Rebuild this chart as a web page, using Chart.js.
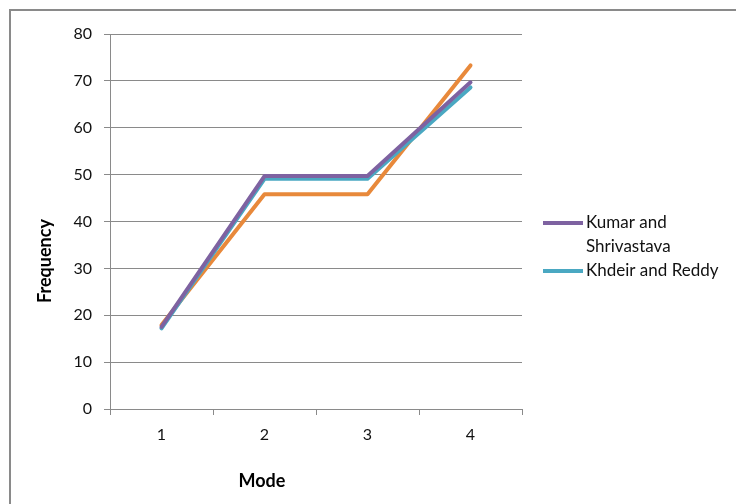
<!DOCTYPE html>
<html>
<head>
<meta charset="utf-8">
<script src="https://cdn.jsdelivr.net/npm/chart.js@4"></script>
<style>
  html, body { margin: 0; padding: 0; background: #fff; overflow: hidden; }
  #wrap { position: relative; width: 736px; height: 504px; }
  #frame { position: absolute; left: 9px; top: 9px; width: 800px; height: 600px; border: 2px solid #8a8a8a; box-sizing: border-box; pointer-events: none; }
  canvas { position: absolute; left: 0; top: 0; }
</style>
</head>
<body>
<div id="wrap">
  <canvas id="c" width="736" height="504"></canvas>
  <div id="frame"></div>
</div>
<script>
// Mode numbers along the x axis
const modes = ['1', '2', '3', '4'];
// Frequencies for each mode
const kumarShrivastava = [17.5, 49.7, 49.7, 69.7];
const khdeirReddy = [17.2, 49.1, 49.1, 68.6];
const presentStudy = [17.9, 45.8, 45.8, 73.3];
// Series shown in the legend (the third one has no legend entry)
const legendNames = [['Kumar and', 'Shrivastava'], ['Khdeir and Reddy']];

const FONT = 'Lato, "Open Sans", sans-serif';

const decorations = {
  id: 'decorations',
  afterDraw(chart) {
    const ctx = chart.ctx;
    ctx.save();
    // Axis titles
    ctx.fillStyle = '#000';
    ctx.font = 'bold 18px ' + FONT;
    ctx.textAlign = 'center';
    ctx.textBaseline = 'middle';
    ctx.fillText('Mode', 262, 481);
    ctx.translate(45, 261);
    ctx.rotate(-Math.PI / 2);
    ctx.fillText('Frequency', 0, 0);
    ctx.restore();

    // Legend
    ctx.save();
    ctx.font = '17px ' + FONT;
    ctx.textAlign = 'left';
    ctx.textBaseline = 'middle';
    let y = 223;
    legendNames.forEach((lines, i) => {
      const ds = chart.data.datasets[i];
      ctx.strokeStyle = ds.borderColor;
      ctx.lineWidth = 4;
      ctx.beginPath();
      ctx.moveTo(543, y);
      ctx.lineTo(583, y);
      ctx.stroke();
      ctx.fillStyle = '#111';
      lines.forEach((t, j) => ctx.fillText(t, 586, y + j * 24));
      y += lines.length * 24;
    });
    ctx.restore();
  }
};

new Chart(document.getElementById('c'), {
  type: 'line',
  data: {
    labels: modes,
    datasets: [
      { label: 'Kumar and Shrivastava', data: kumarShrivastava, borderColor: '#7e62a1', borderWidth: 4 },
      { label: 'Khdeir and Reddy', data: khdeirReddy, borderColor: '#4aa8c2', borderWidth: 4 },
      { label: 'Present', data: presentStudy, borderColor: '#e8893b', borderWidth: 4 }
    ]
  },
  options: {
    responsive: false,
    animation: false,
    events: [],
    layout: { padding: { left: 0, top: 34, right: 214, bottom: 0 } },
    elements: { point: { radius: 0 }, line: { tension: 0, borderCapStyle: 'round', borderJoinStyle: 'round' } },
    plugins: { legend: { display: false }, tooltip: { enabled: false } },
    scales: {
      x: {
        offset: true,
        afterFit(s) { s.height = 95; },
        grid: { drawOnChartArea: false, drawTicks: true, tickLength: 6, color: '#8a8a8a', offset: true },
        border: { color: '#8a8a8a', width: 1 },
        ticks: { color: '#111', font: { family: FONT, size: 16 }, padding: 10 }
      },
      y: {
        min: 0, max: 80,
        afterFit(s) { s.width = 110; },
        grid: { color: '#8a8a8a', tickLength: 6, drawTicks: true },
        border: { color: '#8a8a8a', width: 1 },
        ticks: { stepSize: 10, color: '#111', font: { family: FONT, size: 16 }, padding: 12 }
      }
    }
  },
  plugins: [decorations]
});
</script>
</body>
</html>
